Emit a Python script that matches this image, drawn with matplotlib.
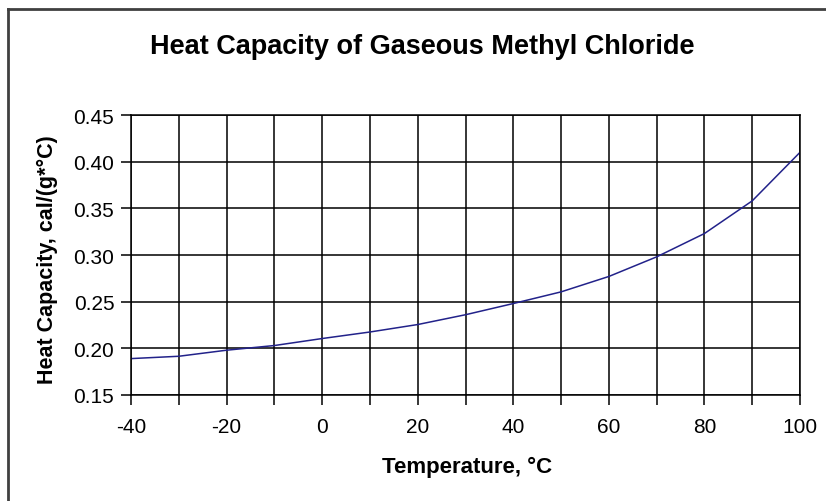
import numpy as np
import matplotlib.pyplot as plt
from matplotlib.lines import Line2D

plt.rcParams['font.family'] = ['Liberation Sans', 'DejaVu Sans']
plt.rcParams['axes.unicode_minus'] = False

# Data
temperature = [-40, -30, -20, -10, 0, 10, 20, 30, 40, 50, 60, 70, 80, 90, 100]
heat_capacity = [0.189, 0.1915, 0.198, 0.203, 0.2105, 0.2175, 0.2255, 0.236,
                 0.248, 0.2605, 0.277, 0.298, 0.323, 0.358, 0.410]
x_ticks = [-40, -20, 0, 20, 40, 60, 80, 100]
y_ticks = [0.15, 0.20, 0.25, 0.30, 0.35, 0.40, 0.45]

W, H = 826, 502
fig = plt.figure(figsize=(W/100, H/100), dpi=100)
ax = fig.add_axes([131/W, 1 - 396/H, (800 - 131)/W, (396 - 116)/H])

ax.plot(temperature, heat_capacity, color='#22228a', lw=1.1)

ax.set_xlim(-40, 100)
ax.set_ylim(0.15, 0.45)
ax.set_xticks(x_ticks)
ax.set_xticks(np.arange(-40, 101, 10), minor=True)
ax.set_yticks(y_ticks)
ax.set_yticklabels([f"{v:.2f}" for v in y_ticks])
ax.grid(True, which='both', color='black', lw=1.1)
ax.tick_params(which='both', direction='out', length=7, width=1.1,
               labelsize=15, pad=5)
ax.tick_params(axis='x', which='major', pad=9)
for s in ax.spines.values():
    s.set_linewidth(1.1)

fig.text(422/W, 1 - 47/H, "Heat Capacity of Gaseous Methyl Chloride",
         fontsize=19.5, fontweight='bold', ha='center', va='center')
fig.text(467/W, 1 - 467/H, "Temperature, °C", fontsize=16,
         fontweight='bold', ha='center', va='center')
fig.text(47/W, 1 - 260/H, "Heat Capacity, cal/(g*°C)", fontsize=15.5,
         fontweight='bold', ha='center', va='center', rotation=90)

# outer chart frame (top and left visible)
fig.add_artist(Line2D([8/W, 8/W], [0, 1 - 10/H], color='#404040', lw=2,
                      transform=fig.transFigure))
fig.add_artist(Line2D([8/W, 1], [1 - 10/H, 1 - 10/H], color='#404040', lw=2,
                      transform=fig.transFigure))

fig.savefig("out.png", dpi=100)
